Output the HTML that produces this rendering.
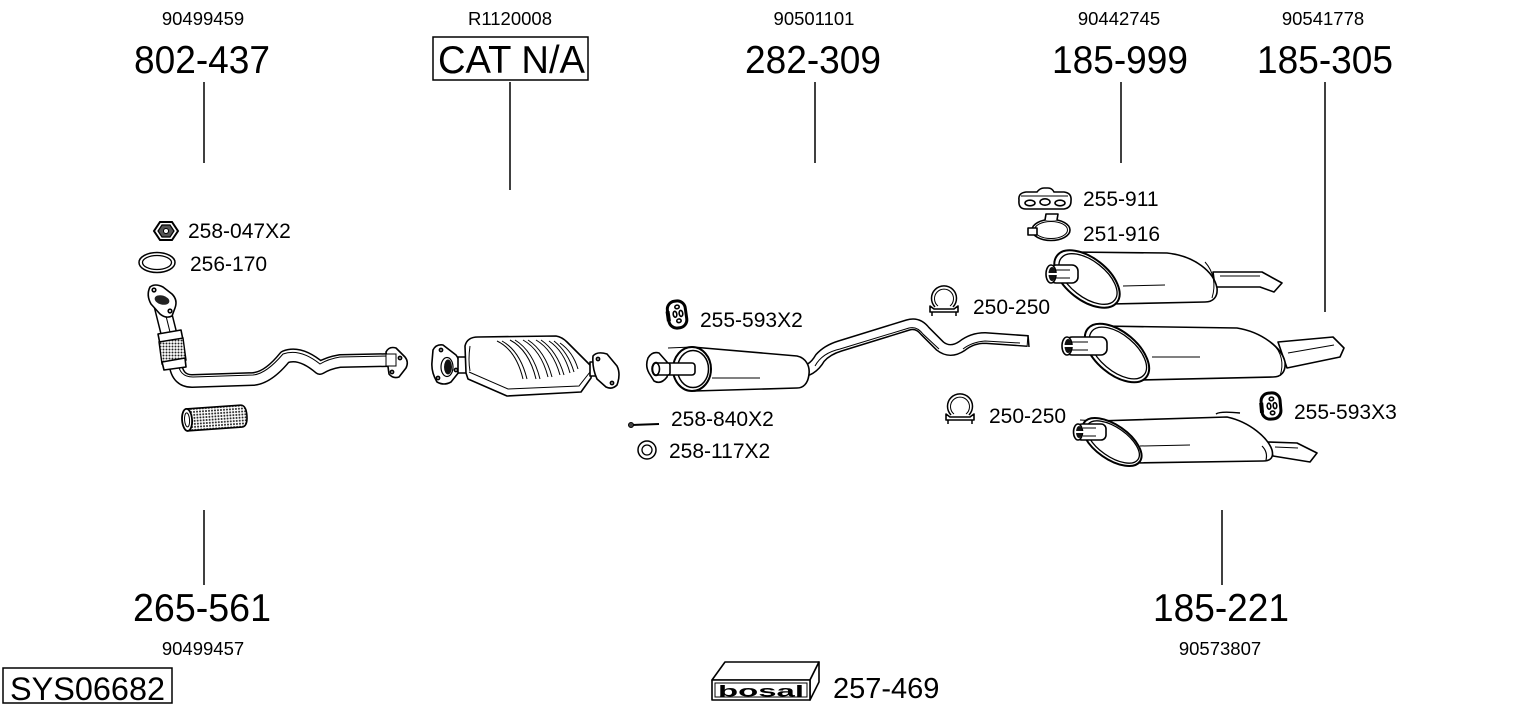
<!DOCTYPE html>
<html><head><meta charset="utf-8"><style>
html,body{margin:0;padding:0;background:#fff;}
svg{display:block;}
text{font-family:"Liberation Sans",Arial,sans-serif;fill:#000;}
.s{font-size:18.5px;}
.b{font-size:38.5px;}
.p{font-size:21px;}
.o{fill:#fff;stroke:#000;stroke-width:1.6;stroke-linejoin:round;}
.l{fill:none;stroke:#000;stroke-width:1.5;}
.t{fill:none;stroke:#000;stroke-width:1;}
</style></head><body>
<svg width="1530" height="711" viewBox="0 0 1530 711" xmlns="http://www.w3.org/2000/svg">
<defs>
<pattern id="m" width="3" height="3" patternUnits="userSpaceOnUse">
<rect width="3" height="3" fill="#fff"/><circle cx="1.5" cy="1.5" r="1" fill="#222"/>
</pattern>
</defs>
<rect width="1530" height="711" fill="#fff"/>

<!-- top labels -->
<text class="s" x="203" y="25" text-anchor="middle">90499459</text>
<text class="s" x="510" y="25" text-anchor="middle">R1120008</text>
<text class="s" x="814" y="25" text-anchor="middle">90501101</text>
<text class="s" x="1119" y="25" text-anchor="middle">90442745</text>
<text class="s" x="1323" y="25" text-anchor="middle">90541778</text>

<text class="b" x="134" y="73" textLength="136" lengthAdjust="spacingAndGlyphs">802-437</text>
<rect x="433" y="37" width="155" height="43" fill="none" stroke="#000" stroke-width="1.5"/>
<text class="b" x="438" y="73" textLength="147" lengthAdjust="spacingAndGlyphs">CAT N/A</text>
<text class="b" x="745" y="73" textLength="136" lengthAdjust="spacingAndGlyphs">282-309</text>
<text class="b" x="1052" y="73" textLength="136" lengthAdjust="spacingAndGlyphs">185-999</text>
<text class="b" x="1257" y="73" textLength="136" lengthAdjust="spacingAndGlyphs">185-305</text>

<line class="l" x1="204" y1="82" x2="204" y2="163"/>
<line class="l" x1="510" y1="82" x2="510" y2="190"/>
<line class="l" x1="815" y1="82" x2="815" y2="163"/>
<line class="l" x1="1121" y1="82" x2="1121" y2="163"/>
<line class="l" x1="1325" y1="82" x2="1325" y2="312"/>

<!-- bottom labels -->
<line class="l" x1="204" y1="510" x2="204" y2="585"/>
<text class="b" x="133" y="621" textLength="138" lengthAdjust="spacingAndGlyphs">265-561</text>
<text class="s" x="203" y="655" text-anchor="middle">90499457</text>
<line class="l" x1="1222" y1="510" x2="1222" y2="585"/>
<text class="b" x="1153" y="621" textLength="136" lengthAdjust="spacingAndGlyphs">185-221</text>
<text class="s" x="1220" y="655" text-anchor="middle">90573807</text>

<rect x="3" y="668" width="169" height="35" fill="none" stroke="#000" stroke-width="1.5"/>
<text x="10" y="700" style="font-size:32px" textLength="155" lengthAdjust="spacingAndGlyphs">SYS06682</text>

<!-- bosal box -->
<path class="o" d="M712,680 L725,662 L819,662 L810,680 Z"/>
<path class="o" d="M810,680 L819,662 L819,682 L810,700 Z"/>
<rect class="o" x="712" y="680" width="98" height="20"/>
<rect x="715" y="683" width="92" height="14" fill="none" stroke="#000" stroke-width="1"/>
<text x="718" y="696.5" textLength="86" lengthAdjust="spacingAndGlyphs" style="font-size:16px;font-weight:bold">bosal</text>
<text x="833" y="698" style="font-size:29px">257-469</text>

<!-- part labels -->
<text class="p" x="188" y="238">258-047X2</text>
<text class="p" x="190" y="271">256-170</text>
<text class="p" x="700" y="327">255-593X2</text>
<text class="p" x="671" y="426">258-840X2</text>
<text class="p" x="669" y="458">258-117X2</text>
<text class="p" x="1083" y="206">255-911</text>
<text class="p" x="1083" y="241">251-916</text>
<text class="p" x="973" y="314">250-250</text>
<text class="p" x="989" y="423">250-250</text>
<text class="p" x="1294" y="419">255-593X3</text>

<!-- nut 258-047 -->
<path d="M160,222 L172,222 L178,231 L172,240 L160,240 L154,231 Z" fill="#fff" stroke="#000" stroke-width="2"/>
<path d="M162,225 L170,225 L174,231 L170,237 L162,237 L158,231 Z" fill="#555" stroke="#000" stroke-width="1.2"/>
<circle cx="166" cy="231" r="2.5" fill="#fff" stroke="#000" stroke-width="1"/>
<!-- gasket 256-170 -->
<ellipse cx="157" cy="262.5" rx="18" ry="10" fill="none" stroke="#000" stroke-width="1.5"/>
<ellipse cx="157" cy="262.5" rx="14.5" ry="7" fill="none" stroke="#000" stroke-width="1.3"/>

<!-- front pipe -->
<path d="M175,360 Q176,381 192,381 L253,379 Q268,378 285,357 Q300,351 320,368 Q328,363 340,361 L391,360" fill="none" stroke="#000" stroke-width="14" stroke-linejoin="round"/>
<path d="M175,360 Q176,381 192,381 L253,379 Q268,378 285,357 Q300,351 320,368 Q328,363 340,361 L391,360" fill="none" stroke="#fff" stroke-width="11" stroke-linejoin="round"/>
<path d="M178,362 Q179,377 193,377 L253,375 Q266,374 283,354 Q300,348 320,364 Q328,359 340,357 L390,356" class="t" stroke-width="0.8"/>
<path d="M162,306 L171,342" fill="none" stroke="#000" stroke-width="17"/>
<path d="M162,306 L171,342" fill="none" stroke="#fff" stroke-width="14"/>
<path d="M165,312 L172,340" class="t" stroke-width="0.8"/>
<path class="o" d="M158,334 L181,330 L183,340 L160,344 Z"/>
<path d="M159,342 L183,338 L186,360 L162,364 Z" fill="url(#m)" stroke="#000" stroke-width="1.4"/>
<path class="o" d="M162,362 L185,358 L186,367 L164,370 Z"/>
<!-- front flange -->
<path class="o" d="M150,287 Q155,283 163,287 L172,294 Q178,300 175,308 L172,316 Q166,319 160,314 L151,304 Q146,295 150,287 Z" stroke-width="1.8"/>
<ellipse cx="162" cy="300" rx="7.5" ry="4.5" fill="#222" transform="rotate(15 162 300)"/>
<circle cx="154" cy="290" r="1.8" class="o" stroke-width="1"/>
<circle cx="170" cy="311" r="1.8" class="o" stroke-width="1"/>
<!-- end flange -->
<path class="o" d="M386,352 Q389,346 396,348 L405,357 Q409,362 406,368 L399,377 Q393,379 389,374 Z" stroke-width="1.8"/>
<rect x="386" y="354" width="10" height="12" fill="#fff" stroke="#000" stroke-width="1"/>
<circle cx="400" cy="358" r="1.6" class="o" stroke-width="1"/>
<circle cx="392" cy="372" r="1.6" class="o" stroke-width="1"/>
<!-- separate flex 265-561 -->
<g transform="translate(214,418) rotate(-4)">
<path d="M-27,-11 L27,-11 Q33,-11 33,0 Q33,11 27,11 L-27,11 Z" fill="url(#m)" stroke="#000" stroke-width="1.6"/>
<ellipse cx="-27" cy="0" rx="5" ry="11" fill="#fff" stroke="#000" stroke-width="1.8"/>
<ellipse cx="-27" cy="0" rx="2.5" ry="7" fill="none" stroke="#000" stroke-width="1"/>
</g>

<!-- catalyst -->
<path class="o" d="M433,350 Q436,344 443,345 L456,355 Q461,361 459,372 L451,382 Q444,386 437,382 Q431,372 432,362 Z" stroke-width="1.8"/>
<ellipse cx="447" cy="367" rx="6" ry="9.5" fill="#fff" stroke="#000" stroke-width="1.2"/>
<ellipse cx="448" cy="367" rx="4" ry="7.5" fill="#111"/>
<circle cx="441" cy="350" r="1.6" class="o" stroke-width="1"/>
<circle cx="456" cy="370" r="1.6" class="o" stroke-width="1"/>
<circle cx="438" cy="378" r="1.6" class="o" stroke-width="1"/>
<rect class="o" x="458" y="357" width="17" height="16"/>
<path class="o" d="M466,373 L465,346 Q467,337 478,337 L556,336 Q562,337 567,342 L592,367 L591,378 L581,392 L507,396 L468,379 Z" stroke-width="1.8"/>
<path class="t" d="M469,372 L508,389 L579,386 L590,372"/>
<path class="t" d="M470,346 Q468,360 470,371"/>
<g class="t" stroke-width="1.4">
<path d="M497,341 Q516,350 523,379"/><path d="M502,341 Q520,351 527,379"/>
<path d="M510,340 Q529,350 536,379"/><path d="M515,340 Q533,351 540,379"/>
<path d="M523,340 Q541,350 548,377"/><path d="M528,340 Q545,351 552,377"/>
<path d="M536,340 Q553,350 560,375"/><path d="M541,340 Q557,351 564,375"/>
<path d="M549,341 Q564,351 570,373"/><path d="M554,341 Q568,352 574,372"/>
<path d="M560,343 Q573,352 578,369"/>
</g>
<rect class="o" x="590" y="362" width="10" height="14"/>
<path class="o" d="M593,356 Q597,351 607,354 L617,366 Q621,374 617,385 Q612,390 606,387 L597,379 Q592,368 593,356 Z" stroke-width="1.8"/>
<circle cx="598" cy="359" r="1.6" class="o" stroke-width="1"/>
<circle cx="612" cy="383" r="1.6" class="o" stroke-width="1"/>

<!-- hanger 255-593X2 -->
<g transform="translate(677,314) rotate(-8)">
<rect x="-9" y="-13" width="18" height="27" rx="8" fill="#fff" stroke="#000" stroke-width="3"/>
<path d="M-9,-4 L-9,6" stroke="#000" stroke-width="4"/>
<ellipse cx="1" cy="-7" rx="2.2" ry="1.8" class="o" stroke-width="1"/>
<ellipse cx="-2" cy="0" rx="1.8" ry="3" class="o" stroke-width="1"/>
<ellipse cx="4" cy="0" rx="1.8" ry="3" class="o" stroke-width="1"/>
<ellipse cx="1" cy="7" rx="2.2" ry="1.8" class="o" stroke-width="1"/>
</g>
<!-- bolt 258-840 -->
<line x1="631" y1="425" x2="659" y2="424" stroke="#000" stroke-width="2"/>
<circle cx="631" cy="425" r="2.5" fill="#444" stroke="#000" stroke-width="1"/>
<!-- ring 258-117 -->
<circle cx="647" cy="450" r="9" fill="none" stroke="#000" stroke-width="1.5"/>
<circle cx="647" cy="450" r="5" fill="none" stroke="#000" stroke-width="1.3"/>

<!-- middle pipe -->
<path d="M798,372 Q812,372 820,358 Q827,350 840,346 L908,325 Q918,322 925,331 L940,346 Q950,354 962,346 Q972,338 985,338 L1028,341" fill="none" stroke="#000" stroke-width="12" stroke-linejoin="round"/>
<path d="M798,372 Q812,372 820,358 Q827,350 840,346 L908,325 Q918,322 925,331 L940,346 Q950,354 962,346 Q972,338 985,338 L1027,341" fill="none" stroke="#fff" stroke-width="9" stroke-linejoin="round"/>
<path class="t" stroke-width="0.8" d="M815,366 Q822,353 840,349 L909,328 Q917,326 923,334 L939,349"/>
<path class="t" stroke-width="0.8" d="M963,349 Q972,342 985,341 L1020,343"/>
<line x1="1028" y1="335" x2="1029" y2="347" stroke="#000" stroke-width="1.5"/>

<!-- silencer 282-309 -->
<path class="o" d="M692,347 L797,356 C806,358 810,366 809,374 C808,384 803,388 797,388 L694,391 L692,369 Z" stroke-width="1.8"/>
<line class="t" x1="668" y1="348" x2="692" y2="347"/>
<path class="t" d="M712,378 L760,378"/>
<ellipse cx="692" cy="369" rx="19" ry="22" fill="#fff" stroke="#000" stroke-width="2"/>
<ellipse cx="693" cy="369" rx="15.5" ry="18.5" fill="none" stroke="#000" stroke-width="1.5"/>
<rect class="o" x="655" y="363" width="40" height="12" rx="3"/>
<path class="o" d="M648,358 Q652,351 659,353 L667,362 Q670,369 667,377 Q661,385 654,381 L649,373 Q645,366 648,358 Z" stroke-width="1.8"/>
<ellipse cx="656" cy="369" rx="4" ry="6.5" class="o" stroke-width="1.5"/>
<rect class="o" x="656" y="363" width="14" height="12" rx="2"/>
<ellipse cx="656" cy="369" rx="3.5" ry="6" class="o" stroke-width="1.5"/>

<!-- 255-911 -->
<path class="o" d="M1019,200 Q1018,193 1026,192 L1037,192 Q1040,188 1044,188 L1048,188 Q1052,188 1054,192 L1064,192 Q1072,193 1071,201 Q1071,208 1064,209 L1026,209 Q1018,209 1019,200 Z" stroke-width="1.6"/>
<path class="t" d="M1021,196 L1068,196"/>
<ellipse cx="1030" cy="203" rx="5" ry="2.8" class="o" stroke-width="1.2"/>
<ellipse cx="1045" cy="202" rx="5" ry="3.2" class="o" stroke-width="1.2"/>
<ellipse cx="1060" cy="203" rx="5" ry="2.8" class="o" stroke-width="1.2"/>
<!-- 251-916 -->
<ellipse cx="1051" cy="230" rx="19" ry="10.5" fill="none" stroke="#000" stroke-width="1.6"/>
<ellipse cx="1051" cy="230" rx="16.5" ry="8.5" fill="none" stroke="#000" stroke-width="1"/>
<path class="o" d="M1045,220 L1046,214 L1058,214 L1057,220" stroke-width="1.2"/>
<rect class="o" x="1028" y="228" width="9" height="7" stroke-width="1.2"/>

<!-- clamps 250-250 -->
<g transform="translate(944,298)">
<path d="M-9,9 A12.5,12.5 0 1 1 9,9" fill="none" stroke="#000" stroke-width="1.5"/>
<path d="M-6,8 A9.5,9.5 0 1 1 6,8" fill="none" stroke="#000" stroke-width="1"/>
<path class="o" d="M-14,8 L-10,11 L10,11 L14,8 L14,14 L-14,14 Z" stroke-width="1.3"/>
<line x1="-12" y1="14" x2="-12" y2="18" stroke="#000" stroke-width="1.5"/>
<line x1="12" y1="14" x2="12" y2="18" stroke="#000" stroke-width="1.5"/>
</g>
<g transform="translate(960,406)">
<path d="M-9,9 A12.5,12.5 0 1 1 9,9" fill="none" stroke="#000" stroke-width="1.5"/>
<path d="M-6,8 A9.5,9.5 0 1 1 6,8" fill="none" stroke="#000" stroke-width="1"/>
<path class="o" d="M-14,8 L-10,11 L10,11 L14,8 L14,14 L-14,14 Z" stroke-width="1.3"/>
<line x1="-12" y1="14" x2="-12" y2="18" stroke="#000" stroke-width="1.5"/>
<line x1="12" y1="14" x2="12" y2="18" stroke="#000" stroke-width="1.5"/>
</g>

<!-- silencer 185-999 -->
<path class="o" d="M1213,272 L1262,272 L1282,283 L1274,292 L1260,287 L1215,287 Z"/>
<path class="t" d="M1220,276 L1260,276"/>
<path class="o" d="M1070,252 L1167,253 C1195,256 1214,272 1217,288 C1218,297 1213,302 1205,302 L1110,304 L1087,279 Z" stroke-width="1.8"/>
<path class="t" d="M1123,286 L1165,285"/>
<path d="M1205,262 C1214,272 1216,285 1212,298" fill="none" stroke="#000" stroke-width="1"/>
<ellipse cx="1087" cy="279" rx="38" ry="21" transform="rotate(38 1087 279)" fill="#fff" stroke="#000" stroke-width="2"/>
<ellipse cx="1088" cy="279" rx="34" ry="18" transform="rotate(38 1088 279)" fill="none" stroke="#000" stroke-width="1.3"/>
<rect class="o" x="1050" y="265" width="28" height="18" rx="6"/>
<ellipse cx="1051" cy="274" rx="5" ry="9" class="o" stroke-width="1.6"/>
<ellipse cx="1052" cy="274" rx="3.5" ry="7" fill="#111"/>
<path d="M1048,274 L1065,274" stroke="#fff" stroke-width="2"/>
<path class="t" d="M1056,270 L1070,270 M1056,278 L1070,278"/>

<!-- silencer 185-305 -->
<path class="o" d="M1278,342 L1333,337 L1344,348 L1340,357 L1287,368 Z"/>
<path class="t" d="M1288,353 L1334,345"/>
<path class="o" d="M1100,326 L1237,328 C1262,332 1282,348 1285,362 C1286,372 1281,377 1273,377 L1138,380 L1117,353 Z" stroke-width="1.8"/>
<path class="t" d="M1152,357 L1200,357"/>
<path d="M1272,343 C1282,352 1284,364 1280,376" fill="none" stroke="#000" stroke-width="1"/>
<ellipse cx="1117" cy="353" rx="38" ry="21" transform="rotate(40 1117 353)" fill="#fff" stroke="#000" stroke-width="2"/>
<ellipse cx="1118" cy="353" rx="34" ry="18" transform="rotate(40 1118 353)" fill="none" stroke="#000" stroke-width="1.3"/>
<rect class="o" x="1066" y="337" width="41" height="18" rx="6"/>
<ellipse cx="1067" cy="346" rx="5" ry="9" class="o" stroke-width="1.6"/>
<ellipse cx="1068" cy="346" rx="3.5" ry="7" fill="#111"/>
<path d="M1063,346 L1082,346" stroke="#fff" stroke-width="2"/>
<path class="t" d="M1072,342 L1088,342 M1072,350 L1088,350"/>

<!-- hanger 255-593X3 -->
<g transform="translate(1271,406) rotate(-5)">
<rect x="-9.5" y="-13" width="19" height="26" rx="8" fill="#fff" stroke="#000" stroke-width="3"/>
<path d="M-9.5,-4 L-9.5,6" stroke="#000" stroke-width="4"/>
<ellipse cx="1" cy="-7" rx="2.2" ry="1.8" class="o" stroke-width="1"/>
<ellipse cx="-2" cy="0" rx="1.8" ry="3" class="o" stroke-width="1"/>
<ellipse cx="4" cy="0" rx="1.8" ry="3" class="o" stroke-width="1"/>
<ellipse cx="1" cy="7" rx="2.2" ry="1.8" class="o" stroke-width="1"/>
</g>

<!-- silencer 185-221 -->
<path class="o" d="M1268,442 L1297,443 L1317,453 L1310,462 L1273,456 Z"/>
<path class="t" d="M1275,447 L1298,448"/>
<path class="o" d="M1097,421 L1227,417 C1250,422 1268,438 1272,450 C1274,458 1270,461 1263,461 L1133,463 L1112,442 Z" stroke-width="1.8"/>
<path d="M1216,414 Q1220,411 1240,413" fill="none" stroke="#000" stroke-width="1.5"/>
<path class="t" d="M1140,446 L1190,445"/>
<path d="M1262,446 Q1268,452 1266,460" fill="none" stroke="#000" stroke-width="1.2"/>
<line class="t" x1="1080" y1="420" x2="1098" y2="421"/>
<ellipse cx="1112" cy="442" rx="34" ry="17" transform="rotate(35 1112 442)" fill="#fff" stroke="#000" stroke-width="2"/>
<ellipse cx="1113" cy="442" rx="30.5" ry="14.5" transform="rotate(35 1113 442)" fill="none" stroke="#000" stroke-width="1.3"/>
<rect class="o" x="1077" y="424" width="29" height="16" rx="5"/>
<ellipse cx="1078" cy="432" rx="4.5" ry="8" class="o" stroke-width="1.6"/>
<ellipse cx="1079" cy="432" rx="3" ry="6" fill="#111"/>
<path d="M1075,432 L1092,432" stroke="#fff" stroke-width="2"/>
<path class="t" d="M1083,428 L1096,428 M1083,436 L1096,436"/>
</svg>
</body></html>
